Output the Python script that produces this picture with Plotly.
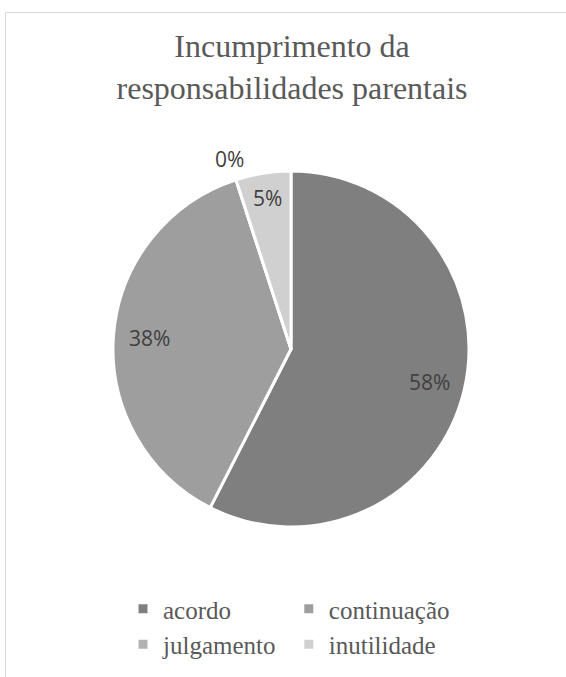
import math
import plotly.graph_objects as go

# Data
labels = ["acordo", "continuação", "julgamento", "inutilidade"]
values = [23, 15, 0, 2]
colors = ["#7f7f7f", "#9e9e9e", "#b2b2b2", "#d0d0d0"]
title_text = "Incumprimento da<br>responsabilidades parentais"

total = sum(values)
pct_text = [f"{int(v * 100 / total + 0.5)}%" for v in values]

W, H = 566, 677
ML, MR, MT, MB = 80, 80, 0, 0
PW, PH = W - ML - MR, H - MT - MB


def px_x(x):
    return (x - ML) / PW


def px_y(y):
    return 1 - (y - MT) / PH


# pie geometry (pixels)
CX, CY, R = 291, 349, 178

fig = go.Figure()
fig.add_trace(go.Pie(
    labels=labels,
    values=values,
    textinfo="none",
    sort=False,
    direction="clockwise",
    rotation=0,
    marker=dict(colors=colors, line=dict(color="white", width=3)),
    domain=dict(x=[px_x(CX - R), px_x(CX + R)], y=[px_y(CY + R), px_y(CY - R)]),
    hoverinfo="label+percent",
))

# data labels placed at each slice's mid-angle (computed from the data)
annotations = []
cum = 0
for v, t in zip(values, pct_text):
    frac = v / total
    mid = (cum + v / 2) / total * 2 * math.pi
    cum += v
    rf = 1.12 if v == 0 else (0.86 if frac < 0.1 else 0.8)
    lx = CX + rf * R * math.sin(mid)
    ly = CY - rf * R * math.cos(mid)
    annotations.append(dict(
        x=px_x(lx), y=px_y(ly), xref="paper", yref="paper",
        text=t, showarrow=False, xanchor="center", yanchor="middle",
        font=dict(family="Open Sans", size=21, color="#404040"),
    ))

fig.update_layout(
    width=W, height=H,
    margin=dict(l=ML, r=MR, t=MT, b=MB),
    paper_bgcolor="white",
    plot_bgcolor="white",
    title=dict(
        text=title_text,
        x=0.516, xanchor="center",
        y=1 - 57 / H, yanchor="top",
        font=dict(family="Liberation Serif", size=32, color="#595959"),
    ),
    legend=dict(
        orientation="h",
        x=px_x(123), xanchor="left",
        y=px_y(586), yanchor="top",
        font=dict(family="Liberation Serif", size=25, color="#595959"),
        itemwidth=30,
    ),
    annotations=annotations,
    shapes=[dict(
        type="rect", xref="paper", yref="paper",
        x0=px_x(5.5), x1=px_x(W + 20), y0=px_y(H + 20), y1=px_y(12.5),
        line=dict(color="#d9d9d9", width=1), fillcolor="rgba(0,0,0,0)",
        layer="below",
    )],
)

fig.write_html("out.html")
